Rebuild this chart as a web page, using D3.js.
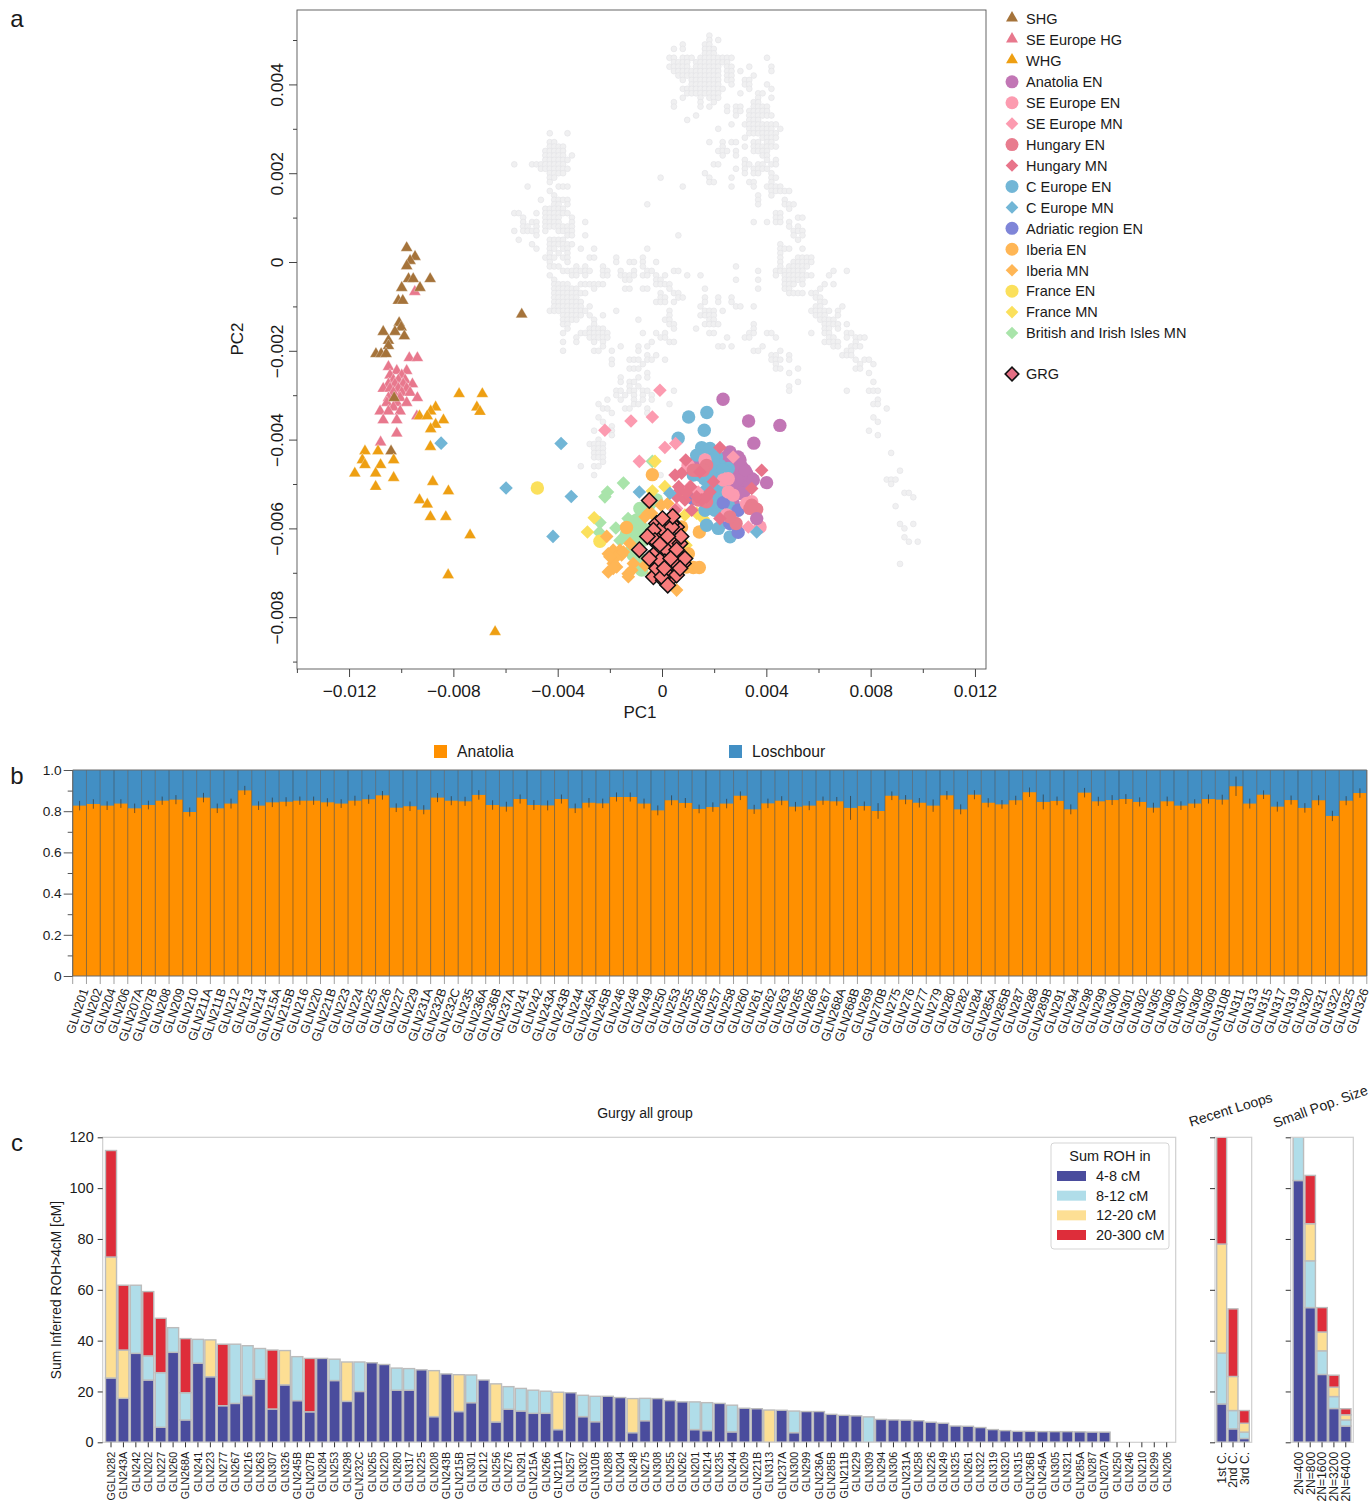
<!DOCTYPE html>
<html><head><meta charset="utf-8">
<script src="https://cdn.jsdelivr.net/npm/d3@7"></script>
<style>
html,body{margin:0;padding:0;background:#fff}
svg{display:block}
text{font-family:"Liberation Sans",Arial,Helvetica,sans-serif;fill:#1a1a1a}
</style></head><body><svg id="chart" width="1371" height="1501"></svg>
<script>
// ---------- Panel a: PCA values (all in units of 1e-4) ----------
const panelLegend = ["SHG","SE Europe HG","WHG","Anatolia EN","SE Europe EN","SE Europe MN","Hungary EN","Hungary MN","C Europe EN","C Europe MN","Adriatic region EN","Iberia EN","Iberia MN","France EN","France MN","British and Irish Isles MN"];
// reference panel: [PC2, [PC1 bin numbers]], one PC1 bin = 1.7e-4
const greyRows = [
[51,[11]],[50,[11,13]],[49,[5,10,11]],[48,[3,5,10,11,12]],[47,[10,11,12]],
[46,[2,3,5,6,7,9,10,11,12,13,14,15,16,24]],[45,[3,4,5,6,8,9,10,11,12,13,14,15]],
[44,[2,3,4,5,6,8,9,10,11,12,13,15,16,20,25]],[43,[3,4,5,6,7,8,9,10,11,12,13,15,16,18,25]],
[42,[4,5,6,7,8,9,10,11,12,13,15,16,21]],[41,[5,7,8,9,10,11,12,13,15,16,19,20]],
[40,[7,8,9,10,11,12,13,16,19,20,24]],[39,[5,6,7,8,9,10,11,12,13,14,20,25]],
[38,[6,7,8,9,10,11,12,13,18,22,23]],[37,[5,9,11,12,13,22,25]],[36,[3,9,12,21,22]],
[35,[3,9,11,15,17,18,21,22,23,24]],[34,[15,17,18,20,21,22,23,24]],[33,[8,17,20,21,22,23,24,25]],
[32,[6,20,21,22]],[31,[16,19,20,21,22,23,24,25,26]],[30,[13,20,21,22,23,24,25,27]],
[29,[-25,-21,20,21,22,23,24,25,26]],[28,[19,23,24,25,26]],[27,[-25,-24,11,14,16,17,21,22,24,25]],
[26,[-25,-24,-23,-22,14,19,21,22,23,24,25,26]],[25,[-26,-25,-24,-23,-22,13,14,15,17,21,22,23,24]],
[24,[-26,-25,-24,-23,-22,-20,14,17,23,24]],[23,[-26,-25,-24,-23,-22,-21,19,24,26]],
[22,[-33,-29,-28,-27,-26,-25,-24,-23,-22,12,13,19,20,22,23,25,26]],
[21,[-27,-26,-25,-24,-23,-22,-21,17,19,21,22,23,24]],[20,[-25,-24,-23,-22,10,19,21,22,25]],
[19,[-25,-24,0,11,16,25,26]],[18,[-25,11,12,20,21,25]],[17,[-30,-23,-22,-21,5,16,21,24,25,26,27]],
[16,[-25,25,26,27,28,29]],[15,[-24,22,25]],[14,[-27,-24,-23,-22,-21,22,28]],
[13,[-24,-23,-21,-3,22,28,29,30]],[12,[-26,-25,-24,-23,-22,29]],
[11,[-33,-32,-28,-26,-25,-24,-23,-22,-21,26,27]],[10,[-31,-26,-25,-24,-23,-20,26,27,31,32]],
[9,[-31,-29,-28,-26,-25,-24,-23,-20,-17,21,24,26,27,29]],[8,[-31,-30,-28,-26,-25,-24,-23,-22,-21,-20,29,31]],
[7,[-33,-31,-30,-29,-28,-26,-23,-22,-21,-20,30,31,32]],[6,[-28,-21,-20,-17,4,30,32]],
[5,[-32,-25,-24,-23,-22,31]],[4,[-29,-25,-24,-23,-22,-21,-20,27]],
[3,[-28,-25,-24,-22,-21,-18,-15,-3,27,28,29,32]],[2,[-25,-23,-21,27]],
[1,[-26,-25,-24,-22,-21,-16,-15,-10,-4,27,31,32,33,34]],[0,[-25,-21,-10,-7,-6,-4,-1,27,30,31,32,33,34]],
[-1,[-25,-24,-23,-19,-17,-13,-4,17,27,29,30,31,32,33]],
[-2,[-22,-21,-20,-19,-18,-17,-16,-13,-12,-9,-6,-3,-2,3,4,22,26,27,28,29,30,31,32,39,42]],
[-3,[-25,-20,-19,-17,-13,-12,-9,-8,-7,-6,-4,-3,-1,1,6,9,26,28,29,30,31,32,33,34,38]],
[-4,[-24,-8,-7,-1,0,17,22,28,29,30,31,32]],
[-5,[-24,-23,-22,-21,-18,-17,-16,-15,-14,-13,-1,0,1,2,28,29,30,32,37,39]],
[-6,[-24,-23,-22,-21,-20,-19,-15,-8,-7,-4,-3,2,10,22,28,29,36]],
[-7,[-24,-23,-22,-21,-20,-19,-18,-17,0,3,4,29,30,31,32,34,35]],
[-8,[-24,-23,-22,-21,-20,-19,0,1,4,5,10,13,16,35,36]],
[-9,[-24,-23,-22,-21,-20,-19,-18,-1,0,1,3,10,13,16,36,37]],
[-10,[-24,-23,-22,-21,-20,-19,-18,-16,9,17,18,21,35,36,41]],
[-11,[-25,-24,-23,-22,-21,-20,-19,-18,-17,-10,2,10,11,12,14,34,35,36,37,38,40]],
[-12,[-22,-21,-20,-19,-18,-16,-13,2,9,10,11,12,35,36,37,40]],
[-13,[-22,-21,-20,-19,-15,-5,1,2,11,12,36,37,38,39]],
[-14,[-22,-21,-15,2,3,10,11,12,13,21,37,38,39,40,42]],
[-15,[-21,-16,-15,-14,-13,3,8,21,37,38,40]],
[-16,[-22,-18,-17,-16,-15,-14,-13,-12,-4,-1,1,11,12,20,21,24,25,34,37,38,42,43]],
[-17,[-19,-16,-15,-14,-13,-12,0,1,15,19,20,26,38,39,42,44,45,46]],
[-18,[-22,-19,-15,-13,-2,2,3,37,38,39,40,44]],
[-19,[-13,-9,-5,-3,13,14,16,23,39,40,43,44,45]],
[-20,[-22,-15,-14,-11,-5,21,22,27,42,43]],
[-21,[-3,-1,25,26,29,41,42,43]],
[-22,[-11,-7,-6,-5,-3,-2,1,25,26,27,29,44,46,47]],
[-23,[-11,-4,26,45,48]],[-24,[-7,-6,-5,26,27,31,44,45]],[-25,[-3,29,47]],
[-26,[-9,-5,-3]],[-27,[-9,-7,-6,31,48]],[-28,[-7,-5,29]],[-29,[-10,-9,-7,-6,-4,-3,3,29,42,47,48,49]],
[-30,[-10,-8,-6,-4,-2]],[-31,[-12,-9,-6,-4,-2,49]],[-32,[-14,-6,-5,2,48,49]],[-33,[-13,-12,-8,-7,-3,51]],
[-34,[-11,-3]],[-35,[-14,48]],[-36,[-13,49]],[-37,[-11]],[-38,[-15,-11,47]],[-39,[-11,49]],
[-40,[-14]],[-41,[-16,-15,-14,-13]],[-42,[-15,-14,-13]],[-43,[-15,-14,-13,52]],[-44,[-15,-14,-13]],
[-45,[-13]],[-46,[-18,-15,-14]],[-47,[54]],[-48,[-15,0]],[-49,[51,52,53]],[-50,[52]],
[-52,[55,56]],[-53,[57]],[-55,[53]],[-59,[54,57]],[-60,[55]],[-62,[55]],[-63,[56,58]],[-68,[54]]
];
const greyBin = 1.7, greyOffset = -0.54;

const shg = [[-97.9,3.2],[-94.7,1.2],[-96.6,0.3],[-97.9,-0.9],[-88.9,-3.8],[-97.2,-3.8],[-95.4,-3.8],[-99.8,-5.8],[-92.8,-5.8],[-101.1,-8.7],[-99.4,-8.7],[-100.8,-13.7],[-100,-14.7],[-106.9,-15.7],[-102.4,-15.7],[-98.8,-16.7],[-104.9,-17.7],[-104.9,-18.9],[-109.7,-20.7],[-107.7,-20.7],[-105.8,-20.7],[-102.7,-30.6],[-103.9,-42.6],[-53.8,-11.8]];
const seHG = [[-94.8,-6.7],[-96.9,-21.6],[-93.8,-21.6],[-104.9,-23.6],[-101.7,-24.5],[-97.9,-24.5],[-104.3,-25.5],[-99.8,-25.5],[-103,-26.6],[-101.1,-26.6],[-98.5,-26.6],[-104.9,-27.5],[-102.4,-27.5],[-99.2,-27.5],[-95.7,-27.5],[-106.9,-28.5],[-104.3,-28.5],[-101.1,-28.5],[-97.9,-28.5],[-103,-29.4],[-99.8,-29.4],[-96.6,-29.4],[-104.9,-30.6],[-100.4,-30.6],[-93.8,-30.6],[-105.5,-31.7],[-101.7,-31.7],[-97.9,-31.7],[-103,-32.7],[-108.1,-33.6],[-104.9,-33.6],[-100.4,-33.6],[-106.9,-35.6],[-101.7,-35.6],[-94,-34.7],[-101.7,-38.6],[-107.9,-40.6]];
const whg = [[-77.8,-29.7],[-68.9,-29.7],[-71,-32.7],[-69.8,-33.7],[-86.8,-32.7],[-88.7,-33.6],[-93,-34.7],[-90,-34.7],[-83.8,-35.6],[-86.8,-36.6],[-88.7,-37.6],[-88.8,-41.6],[-113.9,-42.6],[-108.9,-42.6],[-102.9,-44.6],[-114.9,-44.6],[-113.9,-45.7],[-107.9,-45.7],[-117.8,-47.6],[-109.8,-47.6],[-102.9,-48.6],[-109.8,-50.6],[-87.9,-49.5],[-81.9,-51.6],[-93,-53.6],[-90,-54.6],[-88.8,-57.4],[-82.9,-57.4],[-73.6,-61.5],[-82,-70.5],[-64,-83.3]];
const anatoliaEN = [[23.4,-30.9],[33.2,-35.8],[45.2,-36.8],[35.2,-40.8],[40.1,-49.7],[26.05,-42.8],[29.2,-43.9],[30.5,-46.1],[32.4,-47.6],[34.4,-48.8],[31.2,-49.9],[28.6,-50.6],[32.4,-51],[29.9,-52.1],[27.3,-48.4],[24.8,-47.6],[13.3,-44.6],[29.9,-48],[31.8,-49.1],[28.6,-46.9],[23.5,-58.1],[27.3,-54.4],[27.3,-44.6],[31.8,-46.9],[28.6,-49.1],[33.7,-50.3],[26.7,-50.3],[31.2,-52.1],[24.8,-43.9],[29.9,-44.6],[35,-49.1],[27.3,-46.1]];
const anatoliaENLate = [[36.3,-57.8]];
const seEuropeEN = [[10,-45.8],[16.5,-44.6],[27.3,-52.5],[34.4,-54],[37.6,-59.7],[25.4,-51.8],[32.4,-54.4],[23.5,-49.1],[25.4,-48.8],[24.8,-57]];
const seEuropeMN = [[-0.8,-28.9],[-11.9,-35.8],[-3.7,-34.9],[-21.9,-37.9],[1.1,-41.8],[5.2,-40.9],[-8.7,-44.9],[27.3,-43.9],[24.1,-48.8],[26,-51.8],[13.9,-51.8],[24.1,-57],[33.1,-59.7],[10.7,-50.6],[5.6,-55.5]];
const hungaryEN = [[17.1,-45.8],[13.3,-46.9],[13.9,-53.6],[17.1,-54],[34.4,-54.8],[36.3,-55.7],[28.4,-58.9],[26,-57.4],[33.7,-55.5],[15.8,-53.6],[12,-46.9],[15.8,-46.9]];
const hungaryMN = [[22.2,-41.8],[9.1,-44.6],[38.2,-46.9],[5,-48],[7.5,-47.6],[14.5,-47.3],[6.4,-50.6],[11,-50.6],[5.6,-52.9],[8.8,-53.6],[18.4,-51.8],[19.7,-49.5],[5,-55.9],[11.4,-55.9],[15.2,-53.6],[34.4,-51],[22.2,-57.8],[6.9,-51.4],[9.4,-52.1],[13.3,-52.9],[17.1,-52.9]];
const cEuropeEN = [[10.2,-34.9],[17.2,-33.9],[16.2,-37.9],[6.2,-39.7],[15.2,-41.8],[13.3,-43.5],[18.4,-42],[20.9,-43.9],[17.1,-44.6],[22.2,-45.8],[25.4,-46.5],[12,-48],[16.2,-48.8],[20.9,-47.6],[24.1,-48],[20.3,-50.6],[23.5,-51],[17.1,-51.4],[21.6,-52.9],[19.7,-54.4],[16.5,-55.9],[20.3,-55.9],[25.4,-54.8],[17.1,-59.3],[21.6,-60],[26.1,-61.9],[15.8,-52.1],[19.7,-45.4],[23.5,-46.9],[18.4,-47.6],[14.5,-48],[22.9,-51.8],[19.7,-52.1],[22.2,-54.4],[18.4,-53.6],[23.5,-55.9],[19.7,-44.6]];
const cEuropeMN = [[-38.7,-40.9],[-59.8,-50.9],[-34.8,-52.8],[-41.8,-61.8],[-8.7,-51.8],[36.3,-60.8],[3,-52.1],[-84.7,-40.8]];
const adriaticEN = [[29.2,-60.9],[29.2,-55.9],[26,-58.9],[23.5,-54.2],[12,-53.3]];
const iberiaEN = [[-3.7,-47.9],[14.3,-60.8],[7.5,-59.7],[10.1,-65.7],[12,-68.8],[14.3,-68.8],[-13.6,-59.8],[9.4,-68.7]];
const iberiaMN = [[5.6,-73.9],[-21.2,-61.8],[-20.6,-69.8],[-17.4,-68.7],[-18.7,-67.9],[-20.6,-65.7],[-18.7,-64.9],[-16.1,-64.9],[-17.4,-66.4],[-15.5,-66],[-12.9,-70.9],[-11.6,-69.4],[-11,-67.9],[-3.3,-70.2],[-6.5,-57.4],[-4,-56.6],[-0.3,-54.8],[2.2,-54.4],[-12.3,-63.4],[-6.5,-68.3],[-20,-66.4],[-14.8,-65.3],[-18.7,-69],[-13,-70.2],[-5.3,-56.6]];
const franceEN = [[-47.8,-50.9],[-23.8,-62.9]];
const franceMN = [[-28.6,-60.8],[-26,-57.6],[-3.7,-51.6],[1.1,-50.6],[-2.7,-44.9],[8.8,-57],[13.3,-56.6],[15.8,-57.8],[9.2,-63.8],[8.2,-52.1]];
const britishMN = [[-14.8,-49.8],[-3.7,-44.9],[-20.9,-51.8],[-21.9,-52.9],[-23.8,-58.7],[-24,-60.9],[-17.7,-59.9],[-16.1,-62.7],[-13,-57.8],[-10.4,-61.2],[-14.2,-59.7],[-7.2,-59.7],[-9.7,-64.2],[-5.3,-55.1],[-2.7,-53.3],[-11.7,-59.7],[-4.6,-61.2],[-11,-62.7],[-8.5,-58.1]];
const britishRound = [[-8.5,-55.5],[-11,-66],[-7.8,-69.4],[-7.2,-67.2],[-9.7,-58.1],[-12.3,-61.9],[-9.7,-61.2],[-7.2,-62.7],[-11.6,-64.9],[-9.7,-67.2],[-5.9,-60.4],[-4.6,-54.4],[-2.1,-53.6],[-13.6,-61.2]];
const grg = [[-2.1,-58.9],[1.8,-58.9],[5.6,-59.7],[-3.3,-62.7],[3.7,-62.7],[6.9,-63.4],[1.8,-64.9],[8.2,-67.9],[-2.1,-67.9],[3,-68.7],[-3.3,-70.9],[0.5,-71.7],[5.6,-69.4],[5,-67.2],[-0.8,-61.2],[-0.2,-60],[-3.3,-60.4],[3.7,-58.9],[4.3,-70.9],[-2.1,-69],[1.8,-70.2],[-3.3,-66],[6.9,-66.4],[-2.7,-62.7],[1.1,-67.5],[-0.8,-67.2],[6,-68.3],[8.8,-66.8],[5.6,-70.5],[-0.1,-70.9],[0.9,-69],[6.9,-69],[3.7,-59.7],[4.1,-57.3],[-4.9,-53.7],[0.2,-57.8],[7.3,-61.8],[2.2,-61.8],[-5.6,-61.8],[-0.8,-63.6],[-8.7,-64.8],[5.6,-64.8],[-4.9,-66.8],[3.3,-66.8],[2.2,-72.8]];

// ---------- Panel b: qpAdm ----------
const bNames = ["GLN201","GLN202","GLN204","GLN206","GLN207A","GLN207B","GLN208","GLN209","GLN210","GLN211A","GLN211B","GLN212","GLN213","GLN214","GLN215A","GLN215B","GLN216","GLN220","GLN221B","GLN223","GLN224","GLN225","GLN226","GLN227","GLN229","GLN231A","GLN232B","GLN232C","GLN235","GLN236A","GLN236B","GLN237A","GLN241","GLN242","GLN243A","GLN243B","GLN244","GLN245A","GLN245B","GLN246","GLN248","GLN249","GLN250","GLN253","GLN255","GLN256","GLN257","GLN258","GLN260","GLN261","GLN262","GLN263","GLN265","GLN266","GLN267","GLN268A","GLN268B","GLN269","GLN270B","GLN275","GLN276","GLN277","GLN279","GLN280","GLN282","GLN284","GLN285A","GLN285B","GLN287","GLN288","GLN289B","GLN291","GLN294","GLN298","GLN299","GLN300","GLN301","GLN302","GLN305","GLN306","GLN307","GLN308","GLN309","GLN310B","GLN311","GLN313","GLN315","GLN317","GLN319","GLN320","GLN321","GLN322","GLN325","GLN326"];
const anatoliaShare = [.827,.835,.827,.837,.814,.83,.851,.856,.796,.866,.814,.837,.901,.827,.843,.846,.851,.851,.843,.837,.851,.858,.877,.817,.824,.807,.866,.851,.848,.879,.83,.822,.859,.83,.828,.859,.814,.841,.838,.869,.869,.837,.804,.853,.84,.811,.82,.837,.875,.809,.838,.851,.822,.827,.851,.848,.816,.825,.801,.875,.856,.841,.827,.877,.809,.88,.841,.833,.853,.892,.845,.85,.809,.89,.848,.854,.859,.845,.817,.848,.827,.837,.859,.856,.921,.837,.88,.822,.854,.816,.853,.777,.851,.888];
const anatoliaErr = [.023,.023,.021,.021,.023,.021,.02,.022,.022,.023,.023,.024,.022,.021,.023,.022,.02,.02,.02,.021,.024,.022,.021,.021,.023,.022,.022,.022,.022,.023,.023,.024,.022,.024,.024,.022,.023,.023,.023,.022,.022,.024,.024,.024,.024,.021,.023,.023,.021,.022,.023,.022,.023,.022,.02,.021,.058,.022,.038,.021,.022,.023,.03,.021,.024,.022,.022,.021,.022,.023,.036,.021,.024,.023,.022,.024,.024,.022,.024,.023,.021,.021,.022,.024,.047,.024,.021,.024,.022,.023,.024,.025,.022,.023];

// ---------- Panel c: ROH ----------
const rohNames = ["GGLN282","GLN243A","GLN242","GLN202","GLN227","GLN260","GLN268A","GLN241","GLN223","GLN277","GLN267","GLN216","GLN263","GLN307","GLN326","GLN245B","GLN207B","GLN284","GLN253","GLN298","GLN232C","GLN265","GLN220","GLN280","GLN317","GLN225","GLN208","GLN243B","GLN215B","GLN301","GLN212","GLN256","GLN276","GLN291","GLN215A","GLN266","GLN211A","GLN257","GLN302","GLN310B","GLN288","GLN204","GLN248","GLN275","GLN308","GLN255","GLN262","GLN201","GLN214","GLN235","GLN244","GLN209","GLN221B","GLN313","GLN237A","GLN300","GLN299","GLN236A","GLN285B","GLN211B","GLN229","GLN309","GLN294","GLN306","GLN231A","GLN258","GLN226","GLN249","GLN325","GLN261","GLN322","GLN319","GLN320","GLN315","GLN236B","GLN245A","GLN305","GLN321","GLN285A","GLN287","GLN207A","GLN250","GLN246","GLN210","GLN299","GLN206"];
const roh4to8 = [25.3,17.3,35,24.5,5.9,35.4,8.8,31.1,25.8,14.4,15.3,18.4,24.8,13.1,22.6,16.4,12,33,24.3,16.1,20,31.3,30.6,20.5,20.5,28.5,10.1,26.9,12.1,15.6,24.5,8,13,12.3,11.4,11.4,5,19.5,10.1,8.1,18.1,17.6,3.8,8.5,17.2,16.4,15.9,5,4.6,15.3,4.1,13.4,13.2,0,12.6,3.8,12.1,12.1,11,10.6,10.4,0,9,8.8,8.7,8.5,7.9,7.5,6.4,6.3,5.8,5,4.6,4.3,4.3,4.2,4.2,4.2,4.1,4,4,0,0,0,0,0];
const roh8to12 = [0,0,26.8,9.5,21.5,9.7,10.7,9.4,0,0,23.3,19.6,12.1,0,0,17.3,0,0,8.4,0,11.6,0,0,8.7,8.5,0,0,0,0,10.9,0,0,8.9,8.9,9.1,8.7,0,0,8.4,10,0,0,0,8.8,0,0,0,10.9,11,0,10.5,0,0,0,0,8.5,0,0,0,0,0,10,0,0,0,0,0,0,0,0,0,0,0,0,0,0,0,0,0,0,0,0,0,0,0,0];
const roh12to20 = [47.6,19,0,0,0,0,0,0,14.5,0,0,0,0,0,13.5,0,0,0,0,15.5,0,0,0,0,0,0,18.1,0,14.5,0,0,15,0,0,0,0,14.7,0,0,0,0,0,13.4,0,0,0,0,0,0,0,0,0,0,12.7,0,0,0,0,0,0,0,0,0,0,0,0,0,0,0,0,0,0,0,0,0,0,0,0,0,0,0,0,0,0,0,0];
const roh20to300 = [41.9,25.5,0,25.3,21.4,0,21.3,0,0,24.2,0,0,0,23.2,0,0,21,0,0,0,0,0,0,0,0,0,0,0,0,0,0,0,0,0,0,0,0,0,0,0,0,0,0,0,0,0,0,0,0,0,0,0,0,0,0,0,0,0,0,0,0,0,0,0,0,0,0,0,0,0,0,0,0,0,0,0,0,0,0,0,0,0,0,0,0,0];
const rohBins = ["4-8 cM","8-12 cM","12-20 cM","20-300 cM"];
const loopNames = ["1st C.","2nd C.","3rd C."];
const loop4to8 = [15.1,5.3,1.5], loop8to12 = [20,7.2,2.5], loop12to20 = [42.9,13.4,3.5], loop20to300 = [47,26.6,5];
const popNames = ["2N=400","2N=800","2N=1600","2N=3200","2N=6400"];
const pop4to8 = [103,53,26.7,13.3,6.4], pop8to12 = [27,18.4,9.3,4.7,2.4], pop12to20 = [0,14.6,7.4,3.7,2], pop20to300 = [0,19,9.6,4.7,2.4];

// ---------- styles ----------
const COL = {shg:"#a5733a",seHG:"#e8788d",whg:"#ee9f12",anat:"#c276b5",seEN:"#fc9bb0",seMN:"#fc9bb0",huEN:"#e87c8e",huMN:"#e8748a",ceEN:"#72b6d6",ceMN:"#72b6d6",adr:"#7f85d8",ibEN:"#ffb655",ibMN:"#ffb655",frEN:"#fbe05c",frMN:"#fbe05c",brit:"#a9e4aa"};
const rohColors = ["#4a4c9d","#b0dde9","#fddf94","#de2d3a"];
const svg = d3.select("#chart");
const triPath = d3.symbol().type(d3.symbolTriangle).size(62)();
const sqPath = s => d3.symbol().type(d3.symbolSquare).size(s)();
const letter = (t,x,y)=>svg.append("text").attr("x",x).attr("y",y).attr("text-anchor","middle").attr("font-size",24).text(t);
letter("a",17,27);letter("b",17,784);letter("c",17,1151);

// ---------- Panel a ----------
const A = {l:297,r:986,t:10,b:669};
const ax = d3.scaleLinear().domain([-0.013996,0.012423]).range([A.l,A.r]);
const ay = d3.scaleLinear().domain([0.005676,-0.009167]).range([A.t,A.b]);
const ga = svg.append("g");
ga.append("rect").attr("x",A.l).attr("y",A.t).attr("width",A.r-A.l).attr("height",A.b-A.t).attr("fill","#fff").attr("stroke","#555").attr("stroke-width",.9);
const greyPts = greyRows.flatMap(([r,cols])=>cols.map(c=>[c*greyBin+greyOffset,r]));
const px = d=>ax(d[0]*1e-4), py = d=>ay(d[1]*1e-4);
ga.append("g").selectAll("circle").data(greyPts).join("circle").attr("cx",px).attr("cy",py).attr("r",2.9).attr("fill","#f0f0f1").attr("stroke","#e3e3e5").attr("stroke-width",.6);
const tri=(data,c)=>ga.append("g").selectAll("path").data(data).join("path").attr("d",triPath).attr("fill",c).attr("stroke","#fff").attr("stroke-width",.3).attr("transform",d=>`translate(${px(d)},${py(d)})`);
const cir=(data,c,r=6.7)=>ga.append("g").selectAll("circle").data(data).join("circle").attr("cx",px).attr("cy",py).attr("r",r).attr("fill",c);
const dia=(data,c,s=92)=>ga.append("g").selectAll("path").data(data).join("path").attr("d",sqPath(s)).attr("fill",c).attr("transform",d=>`translate(${px(d)},${py(d)}) rotate(45)`);
tri(seHG,COL.seHG);tri(shg,COL.shg);tri(whg,COL.whg);
cir(britishRound,COL.brit);dia(britishMN,COL.brit);
cir(franceEN,COL.frEN);dia(franceMN,COL.frMN);
cir(iberiaEN,COL.ibEN);dia(iberiaMN,COL.ibMN);
cir(anatoliaEN,COL.anat);cir(cEuropeEN,COL.ceEN);cir(adriaticEN,COL.adr);
cir(seEuropeEN,COL.seEN);dia(seEuropeMN,COL.seMN);cir(hungaryEN,COL.huEN);dia(hungaryMN,COL.huMN);
cir(anatoliaENLate,COL.anat);dia(cEuropeMN,COL.ceMN);
dia(grg,"#f87c7c",118).attr("stroke","#111").attr("stroke-width",1.5);

const fmtA = d=>d===0?"0":d3.format(".3f")(d).replace("-","\u2212");
const axA = (g,axis)=>{g.call(axis);g.select(".domain").remove();g.selectAll("line").attr("stroke","#444");g.selectAll("text").attr("fill","#1a1a1a").attr("font-size",17.4);};
axA(ga.append("g").attr("transform",`translate(0,${A.b})`),d3.axisBottom(ax).tickValues([-0.012,-0.008,-0.004,0,0.004,0.008,0.012]).tickFormat(fmtA).tickSize(8).tickPadding(8));
ga.append("g").attr("transform",`translate(0,${A.b})`).call(d3.axisBottom(ax).tickValues([-0.014,-0.01,-0.006,-0.002,0.002,0.006,0.01]).tickFormat("").tickSize(4)).call(g=>{g.select(".domain").remove();g.selectAll("line").attr("stroke","#444");});
const yl=ga.append("g").attr("transform",`translate(${A.l},0)`);
axA(yl,d3.axisLeft(ay).tickValues([-0.008,-0.006,-0.004,-0.002,0,0.002,0.004]).tickFormat(fmtA).tickSize(8).tickPadding(4));
yl.selectAll("text").attr("transform","rotate(-90)").attr("text-anchor","middle").attr("x",0).attr("y",-14.5).attr("dy","0");
ga.append("g").attr("transform",`translate(${A.l},0)`).call(d3.axisLeft(ay).tickValues([-0.009,-0.007,-0.005,-0.003,-0.001,0.001,0.003,0.005]).tickFormat("").tickSize(4)).call(g=>{g.select(".domain").remove();g.selectAll("line").attr("stroke","#444");});
svg.append("text").attr("x",640).attr("y",718).attr("text-anchor","middle").attr("font-size",17).text("PC1");
svg.append("text").attr("transform","translate(243,339) rotate(-90)").attr("text-anchor","middle").attr("font-size",17).text("PC2");

// legend a
const legMarks = ["t","t","t","c","c","d","c","d","c","d","c","c","d","c","d","d"];
const legCols = [COL.shg,COL.seHG,COL.whg,COL.anat,COL.seEN,COL.seMN,COL.huEN,COL.huMN,COL.ceEN,COL.ceMN,COL.adr,COL.ibEN,COL.ibMN,COL.frEN,COL.frMN,COL.brit];
const legY = d3.scalePoint().domain(panelLegend).range([19,333]);
const lg = svg.append("g");
panelLegend.forEach((n,i)=>{
  const y=legY(n), m=legMarks[i], g=lg.append("g").attr("transform",`translate(1012,${y})`);
  if(m==="t")g.append("path").attr("d",triPath).attr("fill",legCols[i]).attr("transform","translate(0,-1)");
  if(m==="c")g.append("circle").attr("r",6.5).attr("fill",legCols[i]);
  if(m==="d")g.append("path").attr("d",sqPath(80)).attr("fill",legCols[i]).attr("transform","rotate(45)");
  lg.append("text").attr("x",1026).attr("y",y+5.3).attr("font-size",14.5).text(n);
});
lg.append("path").attr("d",sqPath(92)).attr("fill","#e56f84").attr("stroke","#111").attr("stroke-width",1.6).attr("transform","translate(1012,374) rotate(45)");
lg.append("text").attr("x",1026).attr("y",379.3).attr("font-size",14.5).text("GRG");

// ---------- Panel b ----------
const B={l:72.7,r:1366.8,t:770,b:976};
const bx=d3.scaleBand().domain(bNames).range([B.l,B.r]);
const by=d3.scaleLinear().domain([0,1]).range([B.b,B.t]);
const gb=svg.append("g");
gb.append("g").selectAll("rect").data(bNames).join("rect").attr("x",d=>bx(d)).attr("width",bx.bandwidth()).attr("y",by(1)).attr("height",by(0)-by(1)).attr("fill","#428fc4");
gb.append("g").selectAll("rect").data(anatoliaShare).join("rect").attr("x",(d,i)=>bx(bNames[i])).attr("width",bx.bandwidth()).attr("y",d=>by(d)).attr("height",d=>by(0)-by(d)).attr("fill","#ff9000");
const bEdges=bNames.map(n=>bx(n)).concat([B.r]);
gb.append("g").selectAll("line").data(bEdges).join("line").attr("x1",d=>d).attr("x2",d=>d).attr("y1",B.t).attr("y2",B.b+8).attr("stroke","#3d3d3d").attr("stroke-opacity",.55).attr("stroke-width",.9);
gb.append("g").selectAll("line").data(anatoliaShare).join("line")
 .attr("x1",(d,i)=>bx(bNames[i])+bx.bandwidth()/2).attr("x2",(d,i)=>bx(bNames[i])+bx.bandwidth()/2)
 .attr("y1",(d,i)=>by(d+anatoliaErr[i])).attr("y2",(d,i)=>by(d-anatoliaErr[i])).attr("stroke","#333").attr("stroke-opacity",.75).attr("stroke-width",.9);
gb.append("path").attr("d",`M${B.l},${B.b}V${B.t}H${B.r}V${B.b}H${B.l}`).attr("fill","none").attr("stroke","#6b6b6b").attr("stroke-width",1);
const gby=gb.append("g").attr("transform",`translate(${B.l},0)`).call(d3.axisLeft(by).tickValues([0,.2,.4,.6,.8,1]).tickFormat(d=>d===0?"0":d3.format(".1f")(d)).tickSize(9).tickPadding(2));
gby.select(".domain").remove();gby.selectAll("line").attr("stroke","#555");gby.selectAll("text").attr("fill","#1a1a1a").attr("font-size",13.7);
const gbm=gb.append("g").attr("transform",`translate(${B.l},0)`).call(d3.axisLeft(by).tickValues([.1,.3,.5,.7,.9]).tickFormat("").tickSize(5));
gbm.select(".domain").remove();gbm.selectAll("line").attr("stroke","#555");
gb.append("g").selectAll("text").data(bNames).join("text").attr("font-size",12.6).attr("text-anchor","end")
 .attr("transform",d=>`translate(${bx(d)+bx.bandwidth()/2+9},990) rotate(-72)`).attr("fill","#222").text(d=>d);
const bLegNames=["Anatolia","Loschbour"],bLegCols=["#ff9000","#428fc4"],bLegX=d3.scaleOrdinal().domain(bLegNames).range([434,729]);
bLegNames.forEach((n,i)=>{
 svg.append("rect").attr("x",bLegX(n)).attr("y",745).attr("width",13).attr("height",13).attr("fill",bLegCols[i]);
 svg.append("text").attr("x",bLegX(n)+23).attr("y",757).attr("font-size",15.7).text(n);
});

// ---------- Panel c ----------
const C={t:1137.3,b:1442.3};
const cy=d3.scaleLinear().domain([0,120]).range([C.b,C.t]);
function stackPanel(names,segs,left,right,x0,x1,showLabels,labelSize){
  const g=svg.append("g");
  const id="clip"+Math.round(left);
  svg.append("clipPath").attr("id",id).append("rect").attr("x",left).attr("y",C.t).attr("width",right-left).attr("height",C.b-C.t);
  const x=d3.scaleBand().domain(d3.range(names.length)).range([x0,x1]);
  const bars=g.append("g").attr("clip-path",`url(#${id})`);
  const stack=d3.stack().keys([0,1,2,3]).value((d,k)=>segs[k][d])(d3.range(names.length));
  stack.forEach((ser,k)=>{
    bars.append("g").selectAll("rect").data(ser.filter(s=>s[1]>s[0])).join("rect")
     .attr("x",s=>x(s.data)+.7).attr("width",x.bandwidth()-1.4).attr("y",s=>cy(s[1])).attr("height",s=>cy(s[0])-cy(s[1]))
     .attr("fill",rohColors[k]).attr("stroke","#bcbcbc").attr("stroke-width",1.4);
  });
  g.append("rect").attr("x",left).attr("y",C.t).attr("width",right-left).attr("height",C.b-C.t).attr("fill","none").attr("stroke","#cfcfcf").attr("stroke-width",1.2);
  const ya=g.append("g").attr("transform",`translate(${left},0)`).call(d3.axisLeft(cy).tickValues(d3.range(0,121,20)).tickSize(5).tickPadding(4).tickFormat(showLabels?d3.format("d"):""));
  ya.select(".domain").remove();ya.selectAll("line").attr("stroke","#333");ya.selectAll("text").attr("fill","#1a1a1a").attr("font-size",14.5);
  const xa=g.append("g").selectAll("g").data(d3.range(names.length)).join("g").attr("transform",i=>`translate(${x(i)+x.bandwidth()/2},${C.b})`);
  xa.append("line").attr("y2",5).attr("stroke","#333");
  xa.append("text").attr("transform",`translate(${labelSize*0.36},9.5) rotate(-90)`).attr("text-anchor","end").attr("font-size",labelSize).attr("fill","#222").text(i=>names[i]);
}
stackPanel(rohNames,[roh4to8,roh8to12,roh12to20,roh20to300],102.7,1175.7,104.8,1172.9,true,10.8);
stackPanel(loopNames,[loop4to8,loop8to12,loop12to20,loop20to300],1215,1251.7,1216,1250,false,12.2);
stackPanel(popNames,[pop4to8,pop8to12,pop12to20,pop20to300],1290.7,1353.3,1292.4,1351.7,false,12.2);
svg.append("text").attr("x",645).attr("y",1117.5).attr("text-anchor","middle").attr("font-size",14).text("Gurgy all group");
svg.append("text").attr("transform","translate(61,1290) rotate(-90)").attr("text-anchor","middle").attr("font-size",13.8).text("Sum Inferred ROH>4cM [cM]");
svg.append("text").attr("transform","translate(1232,1114) rotate(-17)").attr("text-anchor","middle").attr("font-size",14).text("Recent Loops");
svg.append("text").attr("transform","translate(1322,1111) rotate(-20)").attr("text-anchor","middle").attr("font-size",14.1).text("Small Pop. Size");
const cl=svg.append("g");
cl.append("rect").attr("x",1051).attr("y",1143).attr("width",118).attr("height",106).attr("rx",3).attr("fill","#fff").attr("stroke","#d5d5d5");
cl.append("text").attr("x",1110).attr("y",1161).attr("text-anchor","middle").attr("font-size",14.5).text("Sum ROH in");
const clY=d3.scalePoint().domain(rohBins).range([1176,1235]);
rohBins.forEach((n,i)=>{
 cl.append("rect").attr("x",1057).attr("y",clY(n)-5).attr("width",29).attr("height",10).attr("fill",rohColors[i]);
 cl.append("text").attr("x",1096).attr("y",clY(n)+5).attr("font-size",14.5).text(n);
});
</script></body></html>
